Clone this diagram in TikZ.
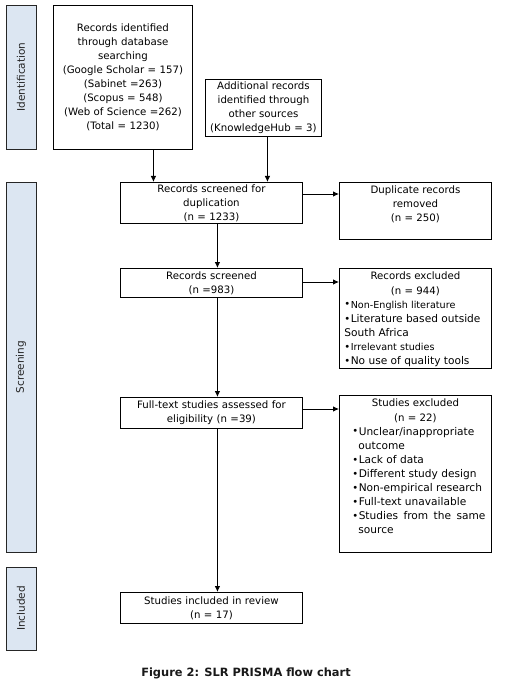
\documentclass[tikz,border=0pt]{standalone}
\usepackage{fontspec}
\setmainfont{DejaVu Sans}
\usetikzlibrary{arrows.meta}
\definecolor{sidefill}{RGB}{220,230,242}
\newcommand{\fbase}{\fontsize{10.2}{14.1}\selectfont}
\newcommand{\fbig}{\fontsize{10.6}{14.1}\selectfont}
\newcommand{\fsmall}{\fontsize{9.6}{14.1}\selectfont}
\newcommand{\fcap}{\fontsize{11.4}{14}\selectfont\bfseries}
\newcommand{\bul}{\makebox[6.3pt][l]{\raisebox{0.2pt}{\fontsize{10}{10}\selectfont •}}}
\newcommand{\topbox}[3]{\begin{minipage}[t][#2pt][t]{#1pt}#3\end{minipage}}
\hbadness=10000
\begin{document}
\begin{tikzpicture}[x=1pt,y=-1pt,
  box/.style={draw, line width=0.9pt, inner sep=0pt, align=center, font=\fbase, anchor=north west},
  tbox/.style={draw, line width=0.9pt, inner sep=0pt, anchor=north west},
  side/.style={draw=black!85, fill=sidefill, line width=0.9pt, inner sep=0pt, text=black!85, font=\fontsize{10.5}{12}\selectfont, rotate=90},
  arr/.style={-{Latex[length=6pt,width=5.5pt]}, line width=0.8pt}
]
\useasboundingbox (0,0) rectangle (510,692);

% phase labels
\node[side, minimum width=144, minimum height=30] (sid) at (21,77) {Identification};
\node[side, minimum width=370, minimum height=30] (ssc) at (21,367) {Screening};
\node[side, minimum width=83, minimum height=30] (sin) at (21,608.5) {Included};

% boxes
\node[box, minimum width=139, minimum height=144, text width=135] (A) at (53,5)
  {Records identified\\through database\\searching\\(Google Scholar = 157)\\(Sabinet =263)\\(Scopus = 548)\\(Web of Science =262)\\(Total = 1230)};
\node[box, minimum width=116, minimum height=57, text width=114] (B) at (205,79)
  {Additional records\\identified through\\other sources\\(KnowledgeHub = 3)};
\node[box, minimum width=182, minimum height=41, text width=178] (C) at (120,182)
  {Records screened for\\duplication\\(n = 1233)};
\node[tbox] (D) at (339,182) {\topbox{152}{57}{\fbase\centering\rule{0pt}{11pt}Duplicate records\\removed\\(n = 250)\par}};
\node[box, minimum width=182, minimum height=29, text width=178] (E) at (120,268)
  {Records screened\\(n =983)};
\node[tbox] (F) at (339,268) {\topbox{152}{100}{\fbase\centering\rule{0pt}{11.5pt}Records excluded\\(n = 944)\par
  \raggedright\leftskip=5pt
  {\fsmall\bul Non-English literature\par}
  {\fbig\bul Literature based outside South Africa\par}
  {\fsmall\bul Irrelevant studies\par}
  {\fbig\bul No use of quality tools\par}}};
\node[box, minimum width=182, minimum height=31, text width=178] (G) at (120,397)
  {Full-text studies assessed for\\eligibility (n =39)};
\node[tbox] (H) at (339,395) {\topbox{152}{157}{\fbase\centering\rule{0pt}{11.5pt}Studies excluded\\(n = 22)\par
  \leftskip=13pt\rightskip=6pt\parfillskip=0pt plus 1fil
  {\fbig\hangindent=6pt\bul Unclear/inappropriate\newline outcome\par}
  {\fbig\bul Lack of data\par}
  {\fbig\bul Different study design\par}
  {\fbig\bul Non-empirical research\par}
  {\fbig\bul Full-text unavailable\par}
  {\fbig\hangindent=6pt\bul Studies from the same source\par}}};
\node[box, minimum width=182, minimum height=31, text width=178] (I) at (120,592)
  {Studies included in review\\(n = 17)};

% caption
\node[font=\fcap, text=black!90] (cap) at (246,673) {Figure 2: SLR PRISMA flow chart};

% connectors
\draw[arr] ([xshift=30.5pt]A.south) -- ([xshift=30.5pt]A.south |- C.north);
\draw[arr] ([xshift=4pt]B.south) -- ([xshift=4pt]B.south |- C.north);
\draw[arr] ([xshift=6pt]C.south) -- ([xshift=6pt]E.north);
\draw[arr] ([xshift=6pt]E.south) -- ([xshift=6pt]G.north);
\draw[arr] ([xshift=6pt]G.south) -- ([xshift=6pt]I.north);
\draw[arr] ([yshift=-12pt]C.north east) -- ([yshift=-12pt]C.north east -| D.west);
\draw[arr] ([yshift=-14pt]E.north east) -- ([yshift=-14pt]E.north east -| F.west);
\draw[arr] ([yshift=-12pt]G.north east) -- ([yshift=-12pt]G.north east -| H.west);
\end{tikzpicture}
\end{document}
